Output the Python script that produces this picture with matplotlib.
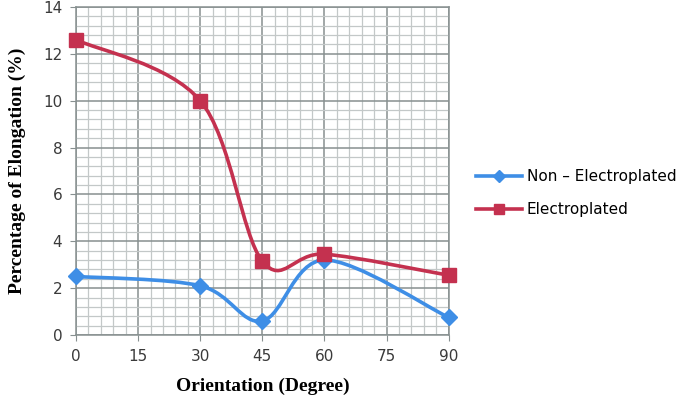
import matplotlib
matplotlib.use("Agg")
import matplotlib.pyplot as plt
import numpy as np
from matplotlib.path import Path
from matplotlib.patches import PathPatch
from matplotlib.lines import Line2D
from matplotlib.ticker import MultipleLocator

orientation = [0, 30, 45, 60, 90]
non_electroplated = [2.5, 2.1, 0.6, 3.2, 0.75]
electroplated = [12.6, 10.0, 3.15, 3.45, 2.55]

blue = "#3E8EE6"
red = "#C4314F"


def smooth_path(x, y):
    # excel style smoothed line (catmull-rom as cubic bezier)
    x = np.asarray(x, float)
    y = np.asarray(y, float)
    verts = [(x[0], y[0])]
    codes = [Path.MOVETO]
    n = len(x)
    for i in range(n - 1):
        i0 = max(i - 1, 0)
        i3 = min(i + 2, n - 1)
        c1 = (x[i] + (x[i + 1] - x[i0]) / 6, y[i] + (y[i + 1] - y[i0]) / 6)
        c2 = (x[i + 1] - (x[i3] - x[i]) / 6, y[i + 1] - (y[i3] - y[i]) / 6)
        verts += [c1, c2, (x[i + 1], y[i + 1])]
        codes += [Path.CURVE4] * 3
    return Path(verts, codes)


fig = plt.figure(figsize=(6.85, 4.01), dpi=100)
ax = fig.add_axes([0.111, 0.1646, 0.544, 0.818])

ax.set_xlim(0, 90)
ax.set_ylim(0, 14)
ax.xaxis.set_major_locator(MultipleLocator(15))
ax.xaxis.set_minor_locator(MultipleLocator(3))
ax.yaxis.set_major_locator(MultipleLocator(2))
ax.yaxis.set_minor_locator(MultipleLocator(0.4))
ax.grid(which="minor", color="#C3C8C8", linewidth=0.9)
ax.grid(which="major", color="#879090", linewidth=1.1)
ax.set_axisbelow(True)
for s in ax.spines.values():
    s.set_color("#879090")
    s.set_linewidth(1.1)
ax.tick_params(which="major", length=4, color="#879090", labelsize=11, labelcolor="#3A3A3A", pad=6)
ax.tick_params(which="minor", length=0)

for ys, col, mk, ms in [(non_electroplated, blue, "D", 8), (electroplated, red, "s", 10)]:
    ax.add_patch(PathPatch(smooth_path(orientation, ys), facecolor="none", edgecolor=col,
                           linewidth=2.6, capstyle="round", joinstyle="round", zorder=3))
    ax.plot(orientation, ys, linestyle="none", marker=mk, markersize=ms, color=col,
            clip_on=False, zorder=4)

ax.set_xlabel("Orientation (Degree)", fontfamily="Liberation Serif", fontweight="bold",
              fontsize=14, labelpad=10)
ax.set_ylabel("Percentage of Elongation (%)", fontfamily="Liberation Serif", fontweight="bold",
              fontsize=14, labelpad=12)

handles = [
    Line2D([], [], color=blue, linewidth=2.6, marker="D", markersize=6),
    Line2D([], [], color=red, linewidth=2.6, marker="s", markersize=7),
]
fig.legend(handles, ["Non \u2013 Electroplated", "Electroplated"], loc="center left",
           bbox_to_anchor=(0.675, 0.518), frameon=False, fontsize=11, handlelength=3,
           handletextpad=0.3, labelspacing=1.2)

fig.savefig("out.png", dpi=100)
